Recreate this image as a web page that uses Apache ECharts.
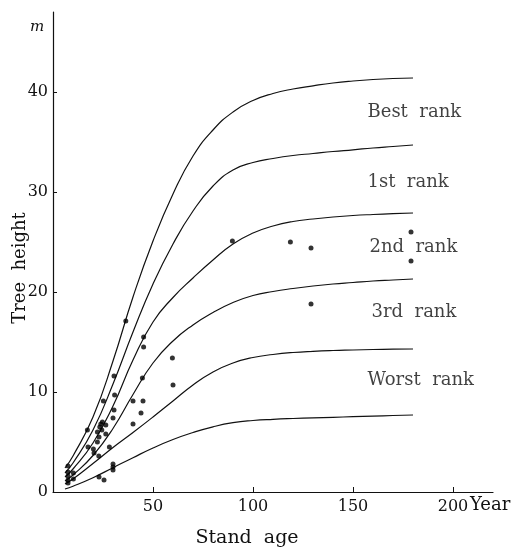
<!DOCTYPE html>
<html>
<head>
<meta charset="utf-8">
<script src="https://cdn.jsdelivr.net/npm/echarts@6/dist/echarts.min.js"></script>
<style>
  html, body { margin: 0; padding: 0; background: #fff; }
  #chart { width: 520px; height: 550px; }
</style>
</head>
<body>
<div id="chart"></div>
<script>
const FONT = '"DejaVu Serif", "Liberation Serif", serif';
const INK = '#111';

// Stand ages (years) at which the guide curves are tabulated
const curveAges = [6, 10, 20, 30, 40, 50, 60, 70, 80, 90, 100, 110, 120, 130, 140, 150, 160, 170, 180];

// Tree height (m) of each site-rank guide curve at those ages
const rankBest   = [2.4, 3.6, 7.5, 13.1, 19.5, 25.1, 29.8, 33.6, 36.2, 38.0, 39.15, 39.85, 40.3, 40.62, 40.9, 41.1, 41.25, 41.35, 41.4];
const rank1st    = [1.9, 2.9, 6.2, 10.8, 16.0, 20.8, 24.8, 28.1, 30.6, 32.2, 32.95, 33.35, 33.65, 33.85, 34.05, 34.22, 34.4, 34.55, 34.7];
const rank2nd    = [1.5, 2.3, 4.9, 8.6, 13.2, 17.0, 19.45, 21.4, 23.2, 24.8, 25.9, 26.6, 27.05, 27.3, 27.5, 27.65, 27.75, 27.83, 27.9];
const rank3rd    = [1.1, 1.7, 3.65, 6.35, 9.75, 12.9, 15.1, 16.7, 17.95, 18.95, 19.65, 20.05, 20.35, 20.6, 20.8, 20.95, 21.1, 21.2, 21.3];
const rankWorst  = [0.8, 1.3, 2.85, 4.45, 5.95, 7.5, 9.1, 10.7, 12.0, 12.9, 13.45, 13.75, 13.95, 14.07, 14.15, 14.2, 14.25, 14.28, 14.3];
const rankBottom = [0.3, 0.58, 1.43, 2.43, 3.43, 4.4, 5.25, 5.95, 6.52, 6.93, 7.15, 7.27, 7.35, 7.41, 7.47, 7.53, 7.59, 7.65, 7.7];

// Rank captions placed beside the curves (data coordinates of the caption's left edge)
const rankNames = ['Best  rank', '1st  rank', '2nd  rank', '3rd  rank', 'Worst  rank'];
const rankLabelAge = [157, 157, 158, 159, 157];
const rankLabelHeight = [38.0, 31.0, 24.5, 18.0, 11.2];

// Measured sample plots
const plotAge = [7.5, 7.5, 7.5, 7.5, 7.5, 10.2, 10.2,
  17.2, 17.5, 20.2, 20.5, 22.2, 22.9, 22.2, 23.0, 23.4, 23.9, 24.7, 26.4, 24.4, 26.4,
  25.2, 28.2, 30.0, 30.0, 30.0, 23.0, 25.5,
  30.5, 30.8, 30.5, 30.0, 36.4,
  40.0, 45.0, 44.0, 40.0, 45.3, 45.3, 44.7, 59.7, 60.0,
  89.7, 118.7, 129.0, 179.0, 179.0, 129.0];
const plotHeight = [2.6, 2.0, 1.6, 1.2, 0.9, 1.9, 1.3,
  6.2, 4.5, 4.3, 3.9, 5.0, 3.6, 6.0, 5.5, 6.5, 6.8, 7.0, 6.7, 6.2, 5.8,
  9.1, 4.5, 2.8, 2.5, 2.2, 1.5, 1.2,
  11.6, 9.7, 8.2, 7.4, 17.1,
  9.1, 9.1, 7.9, 6.8, 15.5, 14.5, 11.4, 13.4, 10.7,
  25.1, 25.0, 24.4, 26.0, 23.1, 18.8];

const xTicks = [50, 100, 150, 200];
const yTicks = [0, 10, 20, 30, 40];

const curves = [rankBest, rank1st, rank2nd, rank3rd, rankWorst, rankBottom];

const chart = echarts.init(document.getElementById('chart'), null, { renderer: 'canvas' });

const lineSeries = curves.map(heights => ({
  type: 'line',
  data: curveAges.map((age, i) => [age, heights[i]]),
  smooth: 0.5,
  symbol: 'none',
  lineStyle: { color: INK, width: 1.2 },
  silent: true,
  z: 2
}));

chart.setOption({
  backgroundColor: '#fff',
  animation: false,
  grid: { left: 53, right: 27, top: 12, bottom: 58, containLabel: false },
  xAxis: {
    type: 'value',
    min: 0, max: 220,
    splitLine: { show: false },
    axisLine: { onZero: false, lineStyle: { color: INK, width: 1.2 } },
    axisTick: { inside: true, length: 5, customValues: xTicks, lineStyle: { color: INK } },
    axisLabel: { customValues: xTicks, margin: 7, color: INK, fontFamily: FONT, fontSize: 16 }
  },
  yAxis: {
    type: 'value',
    min: 0, max: 48,
    splitLine: { show: false },
    axisLine: { show: true, onZero: false, lineStyle: { color: INK, width: 1.2 } },
    axisTick: { show: true, inside: true, length: 4, customValues: yTicks, lineStyle: { color: INK } },
    axisLabel: { customValues: yTicks, margin: 5, color: INK, fontFamily: FONT, fontSize: 16 }
  },
  series: [
    ...lineSeries,
    {
      type: 'scatter',
      data: plotAge.map((a, i) => [a, plotHeight[i]]),
      symbol: 'circle',
      symbolSize: 5,
      itemStyle: { color: '#000' },
      silent: true,
      z: 3
    },
    {
      type: 'scatter',
      data: rankNames.map((n, i) => ({ name: n, value: [rankLabelAge[i], rankLabelHeight[i]] })),
      symbolSize: 1,
      itemStyle: { color: 'rgba(0,0,0,0)' },
      silent: true,
      label: {
        show: true,
        position: 'right',
        distance: 0,
        formatter: '{b}',
        color: INK,
        fontFamily: FONT,
        fontSize: 18,
        verticalAlign: 'middle'
      },
      z: 4
    }
  ],
  graphic: [
    { type: 'text', x: 37, y: 27, style: { text: 'm', font: 'italic 15px ' + FONT, fill: INK, align: 'center', verticalAlign: 'middle' } },
    { type: 'text', x: 20, y: 268, rotation: Math.PI / 2, style: { text: 'Tree  height', font: '18px ' + FONT, fill: INK, align: 'center', verticalAlign: 'middle' } },
    { type: 'text', x: 247, y: 538, style: { text: 'Stand  age', font: '19px ' + FONT, fill: INK, align: 'center', verticalAlign: 'middle' } },
    { type: 'text', x: 470, y: 505, style: { text: 'Year', font: '18px ' + FONT, fill: INK, align: 'left', verticalAlign: 'middle' } }
  ]
});
</script>
</body>
</html>
